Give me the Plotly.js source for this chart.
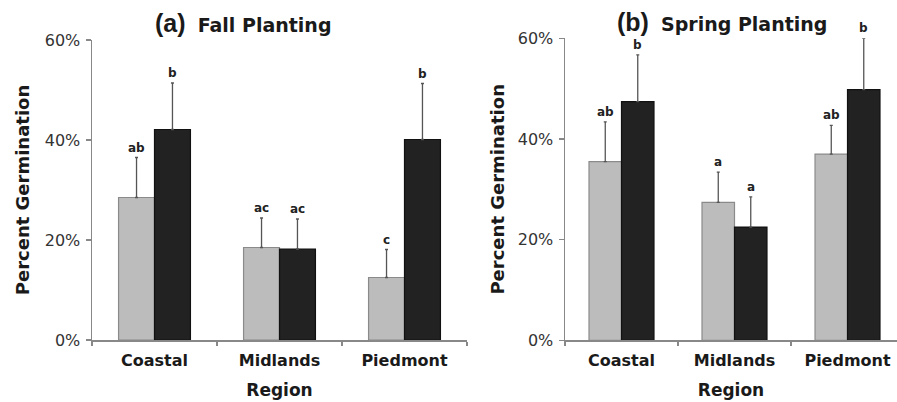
<!DOCTYPE html>
<html>
<head>
<meta charset="utf-8">
<script src="https://cdn.plot.ly/plotly-3.0.1.min.js"></script>
<style>html,body{margin:0;padding:0;background:#fff;}#chart{width:897px;height:402px;}</style>
</head>
<body>
<div id="chart"></div>
<script>
const regions = ["Coastal", "Midlands", "Piedmont"];

const fallGray = [28.5, 18.5, 12.5];
const fallGrayErr = [8.0, 5.9, 5.6];
const fallBlack = [42.1, 18.2, 40.1];
const fallBlackErr = [9.3, 6.0, 11.2];
const fallGrayLetters = ["ab", "ac", "c"];
const fallBlackLetters = ["b", "ac", "b"];

const springGray = [35.5, 27.4, 37.0];
const springGrayErr = [7.9, 6.0, 5.7];
const springBlack = [47.4, 22.5, 49.8];
const springBlackErr = [9.3, 6.0, 10.2];
const springGrayLetters = ["ab", "a", "ab"];
const springBlackLetters = ["b", "a", "b"];

const yTicks = [0, 20, 40, 60];

const GRAY = "#bcbcbc", GRAY_LINE = "#8a8a8a";
const BLACK = "#222222", BLACK_LINE = "#111111";
const ERR = "#555555";
const FONT = "DejaVu Sans, Verdana, sans-serif";
const BARGAP = 0.425;

function barTrace(y, err, color, line, xa, ya) {
  return {
    type: "bar", x: regions, y: y, xaxis: xa, yaxis: ya,
    marker: {color: color, line: {color: line, width: 1.2}},
    error_y: {type: "data", symmetric: false, array: err, arrayminus: err.map(() => 0),
              color: ERR, thickness: 1.3, width: 1.5},
    showlegend: false, hoverinfo: "skip"
  };
}

const data = [
  barTrace(fallGray, fallGrayErr, GRAY, GRAY_LINE, "x", "y"),
  barTrace(fallBlack, fallBlackErr, BLACK, BLACK_LINE, "x", "y"),
  barTrace(springGray, springGrayErr, GRAY, GRAY_LINE, "x2", "y2"),
  barTrace(springBlack, springBlackErr, BLACK, BLACK_LINE, "x2", "y2")
];

const barW = (1 - BARGAP) / 2;
const annotations = [];
function addLetters(vals, errs, letters, side, xr, yr) {
  vals.forEach((v, i) => {
    annotations.push({
      x: i + side * barW / 2, y: v + errs[i], xref: xr, yref: yr,
      text: "<b>" + letters[i] + "</b>", showarrow: false,
      yanchor: "bottom", yshift: 1,
      font: {family: FONT, size: 12, color: "#222"}
    });
  });
}
addLetters(fallGray, fallGrayErr, fallGrayLetters, -1, "x", "y");
addLetters(fallBlack, fallBlackErr, fallBlackLetters, 1, "x", "y");
addLetters(springGray, springGrayErr, springGrayLetters, -1, "x2", "y2");
addLetters(springBlack, springBlackErr, springBlackLetters, 1, "x2", "y2");

function panelTitle(tag, name, xpx, ypx) {
  annotations.push({
    xref: "paper", yref: "paper", x: xpx / 897, y: 1 - ypx / 402,
    xanchor: "center", yanchor: "middle", showarrow: false,
    text: '<span style="font-family:Liberation Sans, Arial, sans-serif;font-size:25px">' + tag +
          '</span>  <b>' + name + '</b>',
    font: {family: FONT, size: 19, color: "#1a1a1a"}
  });
}
panelTitle("<b>(a)</b>", "Fall Planting", 243, 23);
panelTitle("<b>(b)</b>", "Spring Planting", 722, 22);

function xAxis(domain, range) {
  return {
    domain: domain, range: range, type: "category",
    showline: true, linecolor: "#888", linewidth: 1.5,
    ticks: "outside", tickson: "boundaries", ticklen: 4, tickcolor: "#888", tickwidth: 1.3,
    ticklabelstandoff: 5,
    showgrid: false, zeroline: false,
    tickfont: {family: FONT, size: 16, color: "#1a1a1a", weight: "bold"},
    title: {text: "<b>Region</b>", font: {family: FONT, size: 17, color: "#1a1a1a"}, standoff: 15}
  };
}
function yAxis(domain, anchor, standoff) {
  return {
    domain: domain, range: [0, 60], anchor: anchor,
    tickvals: yTicks, ticktext: yTicks.map(t => t + "%"),
    showline: true, linecolor: "#888", linewidth: 1.5,
    ticks: "outside", ticklen: 5, tickcolor: "#888", tickwidth: 1.3,
    ticklabelstandoff: 2,
    showgrid: false, zeroline: false,
    tickfont: {family: FONT, size: 16, color: "#333"},
    title: {text: "<b>Percent Germination</b>", font: {family: FONT, size: 18, color: "#1a1a1a"}, standoff: standoff}
  };
}

const xa1 = xAxis([92 / 897, 467 / 897], [-0.5, 2.5]); xa1.anchor = "y";
const xa2 = xAxis([565 / 897, 1], [-0.5, 2.438]); xa2.anchor = "y2";

const layout = {
  width: 897, height: 402,
  margin: {l: 0, r: 0, t: 0, b: 0},
  paper_bgcolor: "#fff", plot_bgcolor: "#fff",
  barmode: "group", bargap: BARGAP, bargroupgap: 0,
  xaxis: xa1, yaxis: yAxis([1 - 340 / 402, 1 - 40 / 402], "x", 10),
  xaxis2: xa2, yaxis2: yAxis([1 - 340.3 / 402, 1 - 38.3 / 402], "x2", 8),
  annotations: annotations,
  showlegend: false
};

Plotly.newPlot("chart", data, layout, {staticPlot: true, displayModeBar: false});
</script>
</body>
</html>
